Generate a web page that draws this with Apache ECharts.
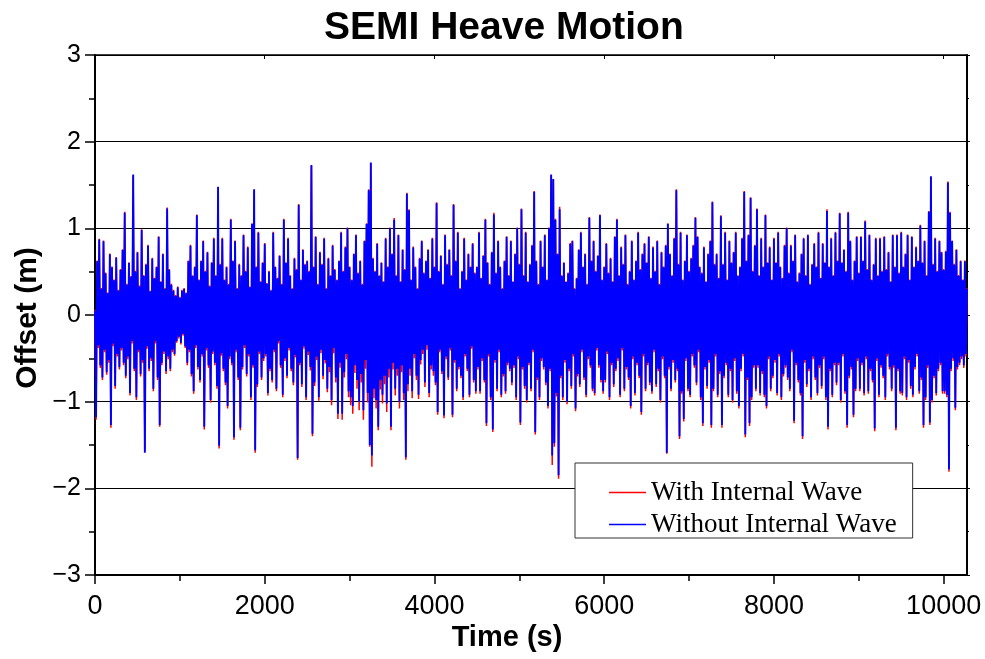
<!DOCTYPE html>
<html><head><meta charset="utf-8">
<script src="https://cdn.jsdelivr.net/npm/echarts@6/dist/echarts.min.js"></script>
<style>html,body{margin:0;padding:0;background:#fff}#c{width:985px;height:659px}</style>
</head><body><div id="c"></div>
<script>
// sampling step of the read-off series (seconds)
const timeStep = 12.5;
const xTickValues = [0, 2000, 4000, 6000, 8000, 10000];
const xMinorTickValues = [1000, 3000, 5000, 7000, 9000];
const seriesNames = ['With Internal Wave', 'Without Internal Wave'];

// Offset (m), one value every 12.5 s from t = 0
const withoutWave = [
 0.05,-1.18,0.62,-0.35,0.87,-0.58,0.30,-0.72,0.85,-0.40,0.48,-0.66,0.25,-0.52,0.70,-1.27,0.55,-0.33,0.40,-0.82,
 0.66,-0.45,0.28,-0.60,0.52,-0.38,0.75,-0.55,1.18,-0.70,0.35,-0.48,0.60,-0.90,0.44,-0.30,1.62,-0.62,0.50,-0.95,
 0.72,-0.40,0.33,-0.68,0.98,-0.52,0.45,-1.59,0.58,-0.36,0.80,-0.62,0.27,-0.50,0.65,-0.85,0.42,-0.30,0.55,-0.72,
 0.90,-1.27,0.38,-0.55,0.70,-0.42,0.30,-0.65,1.23,-0.48,0.52,-0.62,0.35,-0.40,0.28,-0.45,0.22,-0.30,0.32,-0.25,
 0.20,-0.32,0.28,-0.22,0.30,-0.36,0.25,-0.55,0.62,-0.40,0.80,-0.68,0.45,-0.88,0.55,-0.35,1.15,-0.60,0.40,-0.75,
 0.62,-0.45,0.85,-1.29,0.50,-0.38,0.72,-0.58,0.33,-0.98,0.60,-0.42,0.88,-0.55,0.45,-0.82,1.48,-1.51,0.58,-0.44,
 0.88,-0.62,0.40,-0.78,0.55,-1.05,0.35,-0.48,1.10,-0.55,0.62,-1.41,0.85,-0.40,0.30,-0.72,0.58,-1.30,0.45,-0.60,
 0.92,-0.35,0.50,-0.68,0.78,-0.45,0.32,-0.95,1.05,-0.58,1.45,-1.56,0.55,-0.80,0.95,-0.42,0.38,-0.72,0.60,-0.50,
 0.82,-0.45,0.36,-0.90,0.50,-0.62,0.28,-0.75,0.95,-0.40,0.55,-0.85,0.42,-0.30,0.68,-0.58,0.35,-0.92,1.10,-0.50,
 0.60,-0.70,0.88,-0.38,0.45,-0.62,0.30,-0.78,0.65,-0.46,0.52,-1.65,1.27,-0.55,0.40,-0.80,0.75,-0.36,0.58,-0.95,
 0.62,-0.42,0.50,-0.60,1.73,-1.37,0.55,-0.78,0.90,-0.48,0.35,-0.95,0.72,-0.40,0.58,-0.70,0.88,-0.52,0.30,-0.85,
 0.65,-0.60,0.45,-0.98,0.80,-0.38,0.52,-0.72,0.40,-1.14,0.62,-0.55,0.95,-1.14,0.50,-0.66,0.78,-0.45,1.00,-0.88,
 0.55,-0.95,0.40,-1.05,0.70,-0.58,0.92,-0.75,0.48,-1.00,0.62,-0.68,0.35,-1.10,0.85,-0.52,1.05,-0.90,1.44,-1.50,
 1.76,-1.62,0.65,-0.85,0.50,-0.98,0.82,-1.29,0.45,-0.75,0.60,-0.92,0.38,-0.70,0.88,-1.02,0.55,-0.62,1.00,-1.29,
 0.70,-0.55,1.10,-0.85,0.45,-0.62,0.92,-1.00,0.38,-0.58,0.75,-0.90,0.52,-1.64,1.40,-0.80,1.21,-0.62,0.40,-0.88,
 0.78,-0.45,0.55,-0.70,0.30,-0.92,0.65,-0.52,0.85,-0.40,0.48,-0.78,0.62,-0.35,0.75,-0.90,0.42,-0.58,0.88,-0.65,
 0.55,-0.78,1.29,-1.12,0.50,-0.40,0.68,-0.65,0.35,-1.16,0.92,-0.48,0.58,-0.72,0.75,-0.38,0.45,-1.15,1.27,-0.52,
 0.62,-0.85,0.95,-0.60,0.30,-0.70,0.50,-0.95,0.88,-0.45,0.40,-0.62,0.70,-0.92,0.55,-0.36,0.82,-0.75,0.48,-0.88,
 0.55,-0.60,0.95,-0.88,0.42,-0.50,0.68,-0.75,1.10,-1.25,0.60,-0.45,0.35,-0.95,0.72,-1.32,1.16,-0.52,0.48,-0.85,
 0.85,-0.40,0.55,-0.92,0.30,-0.68,0.62,-0.88,0.90,-0.55,0.45,-0.62,0.85,-0.78,0.38,-0.58,0.70,-0.95,1.00,-0.48,
 0.58,-1.24,1.22,-0.60,0.45,-0.82,0.95,-0.98,0.38,-0.55,0.58,-0.85,0.80,-0.40,1.42,-1.35,0.62,-0.72,0.35,-0.95,
 0.85,-0.50,0.55,-0.60,0.92,-0.78,0.40,-1.05,1.00,-0.62,1.62,-1.62,1.57,-1.48,1.10,-0.90,0.70,-1.85,1.22,-0.70,
 0.45,-0.95,0.60,-0.52,0.38,-1.00,0.48,-0.62,0.82,-0.82,0.85,-0.45,0.30,-1.08,0.42,-0.68,0.75,-0.80,0.95,-0.40,
 0.55,-0.72,0.70,-0.92,0.35,-0.48,1.12,-0.58,0.62,-0.85,0.85,-0.90,0.50,-0.38,0.68,-0.58,1.15,-0.75,0.40,-0.88,
 0.55,-0.75,0.82,-0.42,0.48,-0.95,0.65,-0.55,0.38,-0.80,0.90,-0.62,1.10,-0.50,0.45,-0.92,0.78,-0.38,0.58,-0.85,
 0.92,-0.60,0.35,-0.72,0.50,-1.05,0.85,-0.48,0.40,-0.90,0.62,-0.55,0.95,-0.70,0.52,-1.12,0.70,-0.45,0.82,-0.85,
 0.60,-0.55,0.90,-0.78,0.42,-0.88,0.78,-0.40,0.50,-0.80,0.85,-0.62,0.35,-0.98,0.72,-0.48,0.55,-0.70,0.80,-1.59,
 1.05,-0.60,0.70,-0.85,0.45,-0.52,0.88,-0.75,1.44,-0.62,0.58,-1.40,0.95,-0.88,0.40,-1.20,0.62,-0.50,0.92,-0.85,
 0.50,-0.92,0.65,-0.45,0.80,-0.58,1.12,-0.78,0.90,-0.40,0.55,-0.95,0.48,-1.25,0.78,-0.60,0.38,-0.82,0.70,-0.52,
 0.85,-1.27,1.30,-0.85,0.58,-0.45,0.70,-0.92,0.42,-0.65,1.14,-1.27,0.58,-0.70,0.95,-0.55,0.40,-0.92,0.85,-0.62,
 0.60,-0.98,0.72,-0.50,0.95,-0.88,0.45,-1.05,0.55,-0.62,0.88,-0.45,1.42,-1.38,0.62,-0.72,0.92,-1.25,1.35,-0.95,
 0.50,-0.58,0.80,-0.85,1.22,-0.58,0.45,-0.90,0.88,-0.65,0.55,-0.92,1.15,-1.05,0.60,-0.48,0.78,-0.85,0.40,-0.70,
 0.88,-0.52,0.60,-0.90,0.95,-0.45,0.55,-0.95,0.42,-0.68,0.80,-0.58,1.00,-0.72,0.48,-0.85,0.80,-0.40,0.62,-1.22,
 0.92,-0.55,0.38,-0.75,0.48,-0.90,0.70,-1.40,0.88,-0.52,0.45,-0.80,0.92,-0.62,0.35,-0.95,0.58,-0.48,0.82,-0.72,
 0.55,-0.90,0.95,-0.58,0.42,-0.82,0.82,-0.48,0.60,-0.95,1.20,-1.29,0.55,-0.62,0.88,-0.92,0.45,-0.55,0.95,-0.78,
 0.62,-0.55,1.17,-0.98,0.60,-0.45,0.75,-0.88,0.50,-1.27,1.18,-0.70,0.85,-0.60,0.40,-1.15,0.62,-0.85,0.90,-0.50,
 0.48,-0.85,0.90,-0.55,0.62,-0.90,1.08,-0.48,0.52,-0.88,0.92,-0.62,0.40,-0.75,0.58,-1.31,0.88,-0.50,0.45,-0.92,
 0.88,-0.58,0.50,-0.70,0.90,-0.95,0.52,-0.45,0.72,-0.60,0.38,-0.85,0.92,-0.58,0.55,-1.30,0.92,-0.62,0.48,-0.88,
 0.95,-0.90,0.55,-0.48,0.70,-0.95,0.92,-0.52,0.40,-0.82,0.90,-0.92,0.55,-0.60,0.78,-0.45,0.62,-0.88,1.03,-0.72,
 0.60,-1.27,0.85,-0.95,0.45,-0.58,1.19,-1.24,1.60,-0.98,0.58,-0.70,0.88,-0.90,0.50,-0.62,0.85,-0.55,0.72,-0.88,
 0.52,-0.88,0.73,-0.92,1.53,-1.78,1.18,-0.62,0.85,-0.50,0.58,-1.07,0.75,-0.60,0.45,-0.55,0.62,-0.48,0.40,-0.58,
 0.62,-0.45,0.30
];
const withWave = [
 0.06,-1.21,0.63,-0.38,0.88,-0.61,0.31,-0.75,0.86,-0.43,0.49,-0.69,0.26,-0.55,0.71,-1.30,0.56,-0.36,0.41,-0.85,
 0.67,-0.48,0.29,-0.63,0.53,-0.41,0.76,-0.58,1.19,-0.73,0.36,-0.51,0.61,-0.93,0.45,-0.33,1.60,-0.65,0.51,-0.98,
 0.73,-0.43,0.34,-0.71,0.99,-0.55,0.46,-1.57,0.59,-0.39,0.81,-0.65,0.28,-0.53,0.66,-0.88,0.43,-0.33,0.56,-0.75,
 0.91,-1.29,0.39,-0.58,0.71,-0.45,0.31,-0.68,1.24,-0.51,0.53,-0.65,0.36,-0.43,0.29,-0.47,0.23,-0.32,0.33,-0.27,
 0.21,-0.34,0.29,-0.24,0.31,-0.38,0.26,-0.58,0.63,-0.43,0.81,-0.71,0.46,-0.91,0.56,-0.38,1.16,-0.63,0.41,-0.78,
 0.63,-0.48,0.86,-1.32,0.51,-0.41,0.73,-0.61,0.34,-1.01,0.61,-0.45,0.89,-0.58,0.46,-0.85,1.47,-1.54,0.59,-0.47,
 0.89,-0.65,0.41,-0.81,0.56,-1.08,0.36,-0.51,1.11,-0.58,0.63,-1.44,0.86,-0.43,0.31,-0.75,0.59,-1.33,0.46,-0.63,
 0.93,-0.38,0.51,-0.71,0.79,-0.48,0.33,-0.98,1.06,-0.61,1.44,-1.59,0.56,-0.83,0.96,-0.45,0.39,-0.75,0.61,-0.53,
 0.83,-0.48,0.37,-0.93,0.51,-0.65,0.29,-0.78,0.96,-0.43,0.56,-0.88,0.43,-0.33,0.69,-0.61,0.36,-0.95,1.11,-0.53,
 0.61,-0.73,0.89,-0.41,0.46,-0.65,0.31,-0.81,0.66,-0.49,0.53,-1.67,1.28,-0.58,0.41,-0.83,0.76,-0.39,0.59,-0.98,
 0.63,-0.46,0.51,-0.64,1.72,-1.40,0.56,-0.82,0.91,-0.52,0.36,-0.99,0.73,-0.44,0.59,-0.74,0.89,-0.56,0.31,-0.89,
 0.66,-0.66,0.46,-1.04,0.81,-0.44,0.53,-0.78,0.41,-1.20,0.63,-0.61,0.96,-1.21,0.51,-0.72,0.79,-0.51,1.01,-0.95,
 0.56,-1.04,0.41,-1.14,0.71,-0.67,0.93,-0.85,0.49,-1.10,0.63,-0.78,0.36,-1.21,0.86,-0.62,1.06,-1.01,1.45,-1.52,
 1.75,-1.75,0.66,-0.96,0.51,-1.08,0.83,-1.33,0.46,-0.86,0.61,-1.02,0.39,-0.80,0.89,-1.12,0.56,-0.72,1.01,-1.33,
 0.71,-0.63,1.12,-0.93,0.46,-0.70,0.93,-1.08,0.39,-0.66,0.76,-0.98,0.53,-1.67,1.41,-0.88,1.22,-0.70,0.41,-0.96,
 0.79,-0.50,0.56,-0.75,0.31,-0.97,0.66,-0.57,0.86,-0.45,0.49,-0.83,0.63,-0.40,0.76,-0.95,0.43,-0.63,0.89,-0.70,
 0.56,-0.81,1.30,-1.15,0.51,-0.43,0.69,-0.68,0.36,-1.19,0.93,-0.51,0.59,-0.75,0.76,-0.41,0.46,-1.18,1.28,-0.55,
 0.63,-0.88,0.96,-0.63,0.31,-0.73,0.51,-0.98,0.89,-0.48,0.41,-0.65,0.71,-0.95,0.56,-0.39,0.83,-0.78,0.49,-0.91,
 0.56,-0.63,0.96,-0.91,0.43,-0.53,0.69,-0.78,1.11,-1.28,0.61,-0.48,0.36,-0.98,0.73,-1.35,1.18,-0.55,0.49,-0.88,
 0.86,-0.43,0.56,-0.95,0.31,-0.71,0.63,-0.91,0.91,-0.58,0.46,-0.65,0.86,-0.81,0.39,-0.61,0.71,-0.98,1.01,-0.51,
 0.59,-1.27,1.23,-0.63,0.46,-0.85,0.96,-1.01,0.39,-0.58,0.59,-0.88,0.81,-0.43,1.43,-1.38,0.63,-0.75,0.36,-0.98,
 0.86,-0.53,0.56,-0.63,0.93,-0.81,0.41,-1.08,1.01,-0.65,1.61,-1.73,1.56,-1.52,1.11,-0.94,0.71,-1.89,1.25,-0.73,
 0.46,-0.98,0.61,-0.55,0.39,-1.03,0.49,-0.65,0.83,-0.85,0.86,-0.48,0.31,-1.11,0.43,-0.71,0.76,-0.83,0.96,-0.43,
 0.56,-0.75,0.71,-0.95,0.36,-0.51,1.13,-0.61,0.63,-0.88,0.86,-0.93,0.51,-0.41,0.69,-0.61,1.16,-0.78,0.41,-0.91,
 0.56,-0.78,0.83,-0.45,0.49,-0.98,0.66,-0.58,0.39,-0.83,0.91,-0.65,1.11,-0.53,0.46,-0.95,0.79,-0.41,0.59,-0.88,
 0.93,-0.63,0.36,-0.75,0.51,-1.08,0.86,-0.51,0.41,-0.93,0.63,-0.58,0.96,-0.73,0.53,-1.15,0.71,-0.48,0.83,-0.88,
 0.61,-0.58,0.91,-0.81,0.43,-0.91,0.79,-0.43,0.51,-0.83,0.86,-0.65,0.36,-1.01,0.73,-0.51,0.56,-0.73,0.81,-1.60,
 1.06,-0.63,0.71,-0.88,0.46,-0.55,0.89,-0.78,1.45,-0.65,0.59,-1.43,0.96,-0.91,0.41,-1.23,0.63,-0.53,0.93,-0.88,
 0.51,-0.95,0.66,-0.48,0.81,-0.61,1.13,-0.81,0.91,-0.43,0.56,-0.98,0.49,-1.28,0.79,-0.63,0.39,-0.85,0.71,-0.55,
 0.86,-1.30,1.31,-0.88,0.59,-0.48,0.71,-0.95,0.43,-0.68,1.15,-1.30,0.59,-0.73,0.96,-0.58,0.41,-0.95,0.86,-0.65,
 0.61,-1.01,0.73,-0.53,0.96,-0.91,0.46,-1.08,0.56,-0.65,0.89,-0.48,1.43,-1.41,0.63,-0.75,0.93,-1.28,1.36,-0.98,
 0.51,-0.61,0.81,-0.88,1.23,-0.61,0.46,-0.93,0.89,-0.68,0.56,-0.95,1.16,-1.08,0.61,-0.51,0.79,-0.88,0.41,-0.73,
 0.89,-0.55,0.61,-0.93,0.96,-0.48,0.56,-0.98,0.43,-0.71,0.81,-0.61,1.01,-0.75,0.49,-0.88,0.81,-0.43,0.63,-1.25,
 0.93,-0.58,0.39,-0.78,0.49,-0.93,0.71,-1.43,0.89,-0.55,0.46,-0.83,0.93,-0.65,0.36,-0.98,0.59,-0.51,0.83,-0.75,
 0.56,-0.93,0.96,-0.61,0.43,-0.85,0.83,-0.51,0.61,-0.98,1.22,-1.32,0.56,-0.65,0.89,-0.95,0.46,-0.58,0.96,-0.81,
 0.63,-0.58,1.18,-1.01,0.61,-0.48,0.76,-0.91,0.51,-1.30,1.19,-0.73,0.86,-0.63,0.41,-1.18,0.63,-0.88,0.91,-0.53,
 0.49,-0.88,0.91,-0.58,0.63,-0.93,1.09,-0.51,0.53,-0.91,0.93,-0.65,0.41,-0.78,0.59,-1.34,0.89,-0.53,0.46,-0.95,
 0.89,-0.61,0.51,-0.73,0.91,-0.98,0.53,-0.48,0.73,-0.63,0.39,-0.88,0.93,-0.61,0.56,-1.33,0.93,-0.65,0.49,-0.91,
 0.96,-0.93,0.56,-0.51,0.71,-0.98,0.93,-0.55,0.41,-0.85,0.91,-0.95,0.56,-0.63,0.79,-0.48,0.63,-0.91,1.04,-0.75,
 0.61,-1.30,0.86,-0.98,0.46,-0.61,1.20,-1.27,1.59,-1.01,0.59,-0.73,0.89,-0.93,0.51,-0.65,0.86,-0.58,0.73,-0.91,
 0.53,-0.91,0.74,-0.95,1.54,-1.81,1.19,-0.65,0.86,-0.53,0.59,-1.10,0.76,-0.63,0.46,-0.58,0.63,-0.51,0.41,-0.61,
 0.63,-0.48,0.31
];

const toPairs = arr => arr.map((v, i) => [i * timeStep, v]);
const FONT = '"Liberation Sans", Arial, sans-serif';
const chart = echarts.init(document.getElementById('c'), null, {renderer: 'canvas'});
const axisBlack = {color: '#000', width: 2};
const X_MAX = 10275;
chart.setOption({
  animation: false,
  backgroundColor: '#fff',
  title: {
    text: 'SEMI Heave Motion', left: 319, top: 4,
    textStyle: {fontFamily: FONT, fontWeight: 'bold', fontSize: 39, color: '#000'}
  },
  grid: {left: 95, right: 18, top: 55, bottom: 84, containLabel: false, outerBoundsMode: 'none'},
  legend: {
    orient: 'vertical', left: 575, top: 463,
    icon: 'rect', itemWidth: 37, itemHeight: 1.5, itemGap: 5,
    padding: [16, 16, 0, 34],
    backgroundColor: '#fff', borderColor: '#333', borderWidth: 1,
    textStyle: {fontFamily: '"Liberation Serif", "Times New Roman", serif', fontSize: 27, color: '#000'},
    data: seriesNames
  },
  xAxis: [
    {
      type: 'value', min: 0, max: X_MAX, position: 'bottom',
      axisLine: {show: true, onZero: false, lineStyle: axisBlack},
      axisTick: {show: true, length: 9, customValues: xTickValues, lineStyle: {color: '#000', width: 1.5}},
      axisLabel: {customValues: xTickValues, formatter: v => String(v),
                  fontFamily: FONT, fontSize: 27, color: '#000', margin: 18},
      splitLine: {show: false}
    },
    {
      type: 'value', min: 0, max: X_MAX, position: 'bottom',
      axisLine: {show: false, onZero: false},
      axisTick: {show: true, length: 6, customValues: xMinorTickValues, lineStyle: {color: '#000', width: 1.5}},
      axisLabel: {show: false},
      splitLine: {show: false}
    },
    {
      type: 'value', min: 0, max: X_MAX, position: 'top',
      axisLine: {show: true, onZero: false, lineStyle: {color: '#000', width: 1.5}},
      axisTick: {show: true, inside: true, length: 4, customValues: xTickValues, lineStyle: {color: '#000'}},
      axisLabel: {show: false},
      splitLine: {show: false}
    }
  ],
  yAxis: [
    {
      type: 'value', min: -3, max: 3, interval: 1, position: 'left',
      axisLine: {show: true, onZero: false, lineStyle: axisBlack},
      axisTick: {show: true, length: 10, lineStyle: {color: '#000', width: 1.5}},
      minorTick: {show: true, splitNumber: 2, length: 6, lineStyle: {color: '#000', width: 1.5}},
      axisLabel: {fontFamily: FONT, fontSize: 25, color: '#000', margin: 14,
                  formatter: v => (v < 0 ? '\u2212' + Math.abs(v) : String(v))},
      splitLine: {show: true, lineStyle: {color: '#000', width: 1}}
    },
    {
      type: 'value', min: -3, max: 3, interval: 1, position: 'right',
      axisLine: {show: true, onZero: false, lineStyle: axisBlack},
      axisTick: {show: true, length: 3, lineStyle: {color: '#000'}},
      minorTick: {show: true, splitNumber: 2, length: 2, lineStyle: {color: '#000'}},
      axisLabel: {show: false},
      splitLine: {show: false}
    }
  ],
  graphic: [
    {type: 'text', x: 28, y: 318, rotation: Math.PI / 2,
     style: {text: 'Offset (m)', font: 'bold 30px "Liberation Sans", Arial', fill: '#000',
             align: 'center', verticalAlign: 'middle', textAlign: 'center', textVerticalAlign: 'middle'}},
    {type: 'text', x: 507, y: 638,
     style: {text: 'Time (s)', font: 'bold 29px "Liberation Sans", Arial', fill: '#000',
             align: 'center', verticalAlign: 'middle', textAlign: 'center', textVerticalAlign: 'middle'}}
  ],
  series: [
    {name: seriesNames[0], type: 'line', xAxisIndex: 0, yAxisIndex: 0, data: toPairs(withWave),
     symbol: 'none', showSymbol: false, silent: true,
     lineStyle: {color: '#ff0000', width: 1.5}, itemStyle: {color: '#ff0000'}},
    {name: seriesNames[1], type: 'line', xAxisIndex: 0, yAxisIndex: 0, data: toPairs(withoutWave),
     symbol: 'none', showSymbol: false, silent: true,
     lineStyle: {color: '#0000ff', width: 1.9}, itemStyle: {color: '#0000ff'}}
  ]
});
</script></body></html>
